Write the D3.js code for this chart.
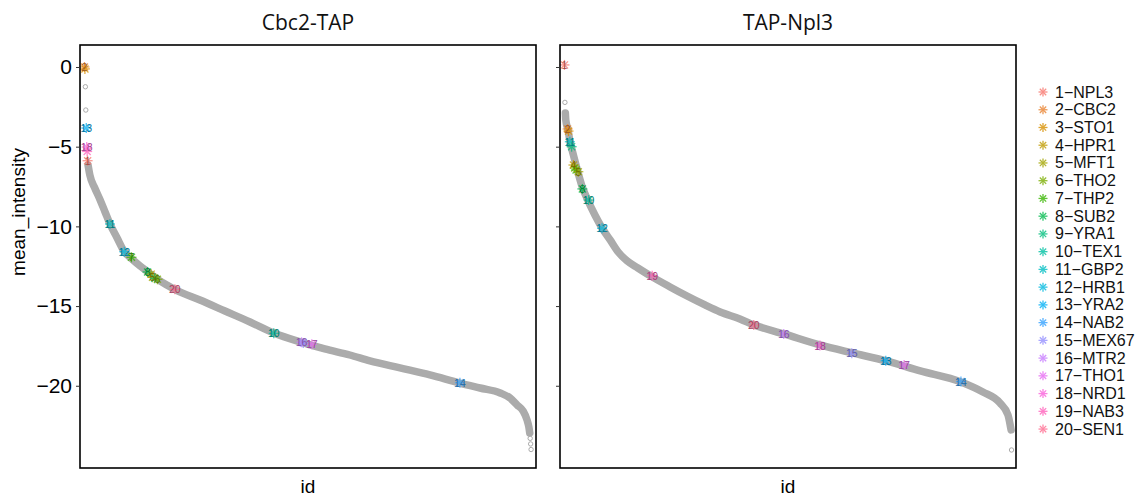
<!DOCTYPE html>
<html>
<head>
<meta charset="utf-8">
<script src="https://cdn.jsdelivr.net/npm/d3@7"></script>
<style>
  html, body { margin: 0; padding: 0; background: #fff; }
  svg { display: block; }
</style>
</head>
<body>
<svg id="chart" width="1136" height="496"></svg>
<script>
// ---- data ---------------------------------------------------------------
const proteins = ["NPL3", "CBC2", "STO1", "HPR1", "MFT1", "THO2", "THP2", "SUB2", "YRA1", "TEX1",
                  "GBP2", "HRB1", "YRA2", "NAB2", "MEX67", "MTR2", "THO1", "NRD1", "NAB3", "SEN1"];
const facetTitles = ["Cbc2-TAP", "TAP-Npl3"];
const yTicks = [0, -5, -10, -15, -20];

// Cbc2-TAP: ranked background proteins (dense run) and stray points
const cbc2RunId = [9, 13, 24, 36, 47, 58, 74, 89, 107, 125, 143, 163, 185, 205, 259, 315, 371, 424,
                   483, 538, 594, 639, 706, 773, 840, 885, 930, 952, 968, 981, 990, 994, 996];
const cbc2RunIntensity = [-6.15, -6.78, -7.59, -8.34, -9.10, -9.85, -10.73, -11.54, -12.05, -12.48,
                          -12.86, -13.30, -13.68, -13.99, -14.62, -15.31, -16.00, -16.69, -17.25,
                          -17.69, -18.07, -18.44, -18.88, -19.32, -19.83, -20.14, -20.45, -20.77,
                          -21.21, -21.58, -22.15, -22.58, -22.96];
const cbc2StrayId = [3, 4, 997, 998, 999];
const cbc2StrayIntensity = [-1.24, -2.70, -23.30, -23.65, -24.00];
// Cbc2-TAP: highlighted proteins (number in the protein list), rank and intensity
const cbc2HitProtein = [2, 3, 13, 18, 19, 1, 11, 12, 7, 8, 4, 5, 9, 6, 20, 10, 16, 15, 17, 14];
const cbc2HitId = [1, 2, 5, 6, 7, 8, 58, 90, 106, 142, 150, 153, 158, 164, 203, 424, 486, 490, 509, 840];
const cbc2HitIntensity = [0.00, -0.12, -3.83, -5.02, -5.30, -5.88, -9.85, -11.59, -11.94, -12.86,
                          -13.00, -13.19, -13.25, -13.32, -13.95, -16.71, -17.27, -17.32, -17.40, -19.81];

// TAP-Npl3: ranked background proteins (dense run) and stray points
const npl3RunId = [3, 4, 9, 13, 18, 25, 31, 40, 51, 69, 85, 103, 121, 141, 165, 197, 237, 275, 315, 349,
                   393, 425, 492, 572, 644, 720, 796, 887, 936, 974, 992, 997, 999];
const npl3RunIntensity = [-2.89, -3.33, -3.95, -4.64, -5.21, -5.96, -6.59, -7.47, -8.22, -9.29,
                          -10.10, -10.85, -11.61, -12.17, -12.61, -13.17, -13.80, -14.37, -14.93, -15.37,
                          -15.81, -16.19, -16.75, -17.44, -17.94, -18.44, -19.07, -19.76, -20.39,
                          -21.08, -21.83, -22.46, -22.77];
const npl3StrayId = [2, 1000];
const npl3StrayIntensity = [-2.22, -24.03];
// TAP-Npl3: highlighted proteins
const npl3HitProtein = [1, 2, 3, 11, 9, 4, 6, 7, 5, 8, 10, 12, 19, 20, 16, 18, 15, 13, 17, 14];
const npl3HitId = [1, 8, 10, 13, 17, 21, 24, 27, 32, 41, 55, 85, 197, 424, 491, 572, 643, 719, 760, 887];
const npl3HitIntensity = [0.13, -3.89, -4.02, -4.69, -5.00, -6.15, -6.34, -6.46, -6.57, -7.65,
                          -8.35, -10.12, -13.09, -16.19, -16.75, -17.48, -17.96, -18.43, -18.70, -19.74];

// discrete hue palette, one colour per protein
const palette = ["#F8766D", "#EA8331", "#D89000", "#C09B00", "#A3A500", "#7CAE00", "#39B600", "#00BB4E",
                 "#00BF7D", "#00C1A3", "#00BFC4", "#00BAE0", "#00B0F6", "#35A2FF", "#9590FF", "#C77CFF",
                 "#E76BF3", "#FA62DB", "#FF62BC", "#FF6C91"];

// ---- layout -------------------------------------------------------------
const svg = d3.select("#chart");
const panelTop = 45, panelBottom = 468;
const panels = [
  { title: facetTitles[0], left: 80, right: 536,
    runId: cbc2RunId, runVal: cbc2RunIntensity, strayId: cbc2StrayId, strayVal: cbc2StrayIntensity,
    hitP: cbc2HitProtein, hitId: cbc2HitId, hitVal: cbc2HitIntensity },
  { title: facetTitles[1], left: 560, right: 1016,
    runId: npl3RunId, runVal: npl3RunIntensity, strayId: npl3StrayId, strayVal: npl3StrayIntensity,
    hitP: npl3HitProtein, hitId: npl3HitId, hitVal: npl3HitIntensity }
];

const y = d3.scaleLinear().domain([-25.16, 1.38]).range([panelBottom, panelTop]);
const grey = "#ababab";
const labelFont = "Liberation Sans, Arial, Helvetica, sans-serif";

function asterisk(g, cx, cy, r, colour, width, opacity) {
  const a = g.append("g").attr("transform", `translate(${cx},${cy})`)
    .attr("stroke", colour).attr("stroke-width", width).attr("opacity", opacity);
  [0, 45, 90, 135].forEach(deg => {
    const t = deg * Math.PI / 180;
    a.append("line")
      .attr("x1", -r * Math.cos(t)).attr("y1", -r * Math.sin(t))
      .attr("x2", r * Math.cos(t)).attr("y2", r * Math.sin(t));
  });
}

panels.forEach((p, pi) => {
  const x = d3.scaleLinear().domain([-9, 1010]).range([p.left, p.right]);
  const g = svg.append("g");

  // facet title
  svg.append("text")
    .attr("x", (p.left + p.right) / 2).attr("y", 30)
    .attr("text-anchor", "middle")
    .attr("font-family", "Open Sans, Noto Sans, sans-serif")
    .attr("font-size", 21).attr("fill", "#111")
    .text(p.title);

  // dense run of background proteins
  const run = p.runId.map((id, i) => [id, p.runVal[i]]);
  g.append("path")
    .datum(run)
    .attr("d", d3.line().x(d => x(d[0])).y(d => y(d[1])).curve(d3.curveMonotoneX))
    .attr("fill", "none").attr("stroke", grey)
    .attr("stroke-width", 7.5).attr("stroke-linecap", "round").attr("stroke-linejoin", "round");

  // stray background points
  g.selectAll("circle.stray")
    .data(p.strayId.map((id, i) => [id, p.strayVal[i]]))
    .join("circle")
    .attr("class", "stray")
    .attr("cx", d => x(d[0])).attr("cy", d => y(d[1]))
    .attr("r", 2.2).attr("fill", "none").attr("stroke", grey).attr("stroke-width", 1);

  // highlighted proteins
  const hits = p.hitP.map((pr, i) => ({ pr, id: p.hitId[i], v: p.hitVal[i] }))
    .sort((a, b) => a.id - b.id);
  hits.forEach(h => asterisk(g, x(h.id), y(h.v), 5, palette[h.pr - 1], 1.3, 0.75));

  // labels, skipping any that would collide with one already placed
  const placed = [];
  const fs = 10.5;
  hits.forEach(h => {
    const cx = x(h.id), cy = y(h.v);
    const t = g.append("text")
      .attr("x", cx).attr("y", cy)
      .attr("text-anchor", "middle").attr("dominant-baseline", "central")
      .attr("font-family", labelFont).attr("font-size", fs)
      .attr("fill", d3.color(palette[h.pr - 1]).darker(1.2).formatHex())
      .text(h.pr);
    const w = t.node().getComputedTextLength() * 0.8;
    const hgt = fs * 0.75;
    const box = { x0: cx - w / 2, x1: cx + w / 2, y0: cy - hgt / 2, y1: cy + hgt / 2 };
    const clash = placed.some(b => box.x0 < b.x1 && box.x1 > b.x0 && box.y0 < b.y1 && box.y1 > b.y0);
    if (clash) t.remove(); else placed.push(box);
  });

  // panel frame
  svg.append("rect")
    .attr("x", p.left).attr("y", panelTop)
    .attr("width", p.right - p.left).attr("height", panelBottom - panelTop)
    .attr("fill", "none").attr("stroke", "#000").attr("stroke-width", 1.6);

  // y ticks on every panel, labels on the first
  const yAxis = d3.axisLeft(y).tickValues(yTicks).tickSize(4).tickPadding(4)
    .tickFormat(pi === 0 ? (d => d3.format("d")(d).replace("-", "\u2212")) : () => "");
  const ax = svg.append("g").attr("transform", `translate(${p.left},0)`).call(yAxis);
  ax.select(".domain").remove();
  ax.selectAll(".tick line").attr("stroke", "#333").attr("stroke-width", 1);
  ax.selectAll(".tick text").attr("font-family", labelFont).attr("font-size", 21).attr("fill", "#000");

  // x axis title
  svg.append("text")
    .attr("x", (p.left + p.right) / 2).attr("y", 493)
    .attr("text-anchor", "middle")
    .attr("font-family", labelFont).attr("font-size", 19).attr("fill", "#000")
    .text("id");
});

// y axis title
svg.append("text")
  .attr("transform", `translate(25,212) rotate(-90)`)
  .attr("text-anchor", "middle")
  .attr("font-family", labelFont).attr("font-size", 19).attr("fill", "#000")
  .text("mean_intensity");

// legend
const legend = svg.append("g");
proteins.forEach((name, i) => {
  const ly = 92 + i * 17.74;
  asterisk(legend, 1043, ly, 4.5, palette[i], 1.3, 0.8);
  legend.append("text")
    .attr("x", 1055).attr("y", ly)
    .attr("dominant-baseline", "central")
    .attr("font-family", labelFont).attr("font-size", 16).attr("fill", "#111")
    .text(`${i + 1}\u2212${name}`);
});
</script>
</body>
</html>
